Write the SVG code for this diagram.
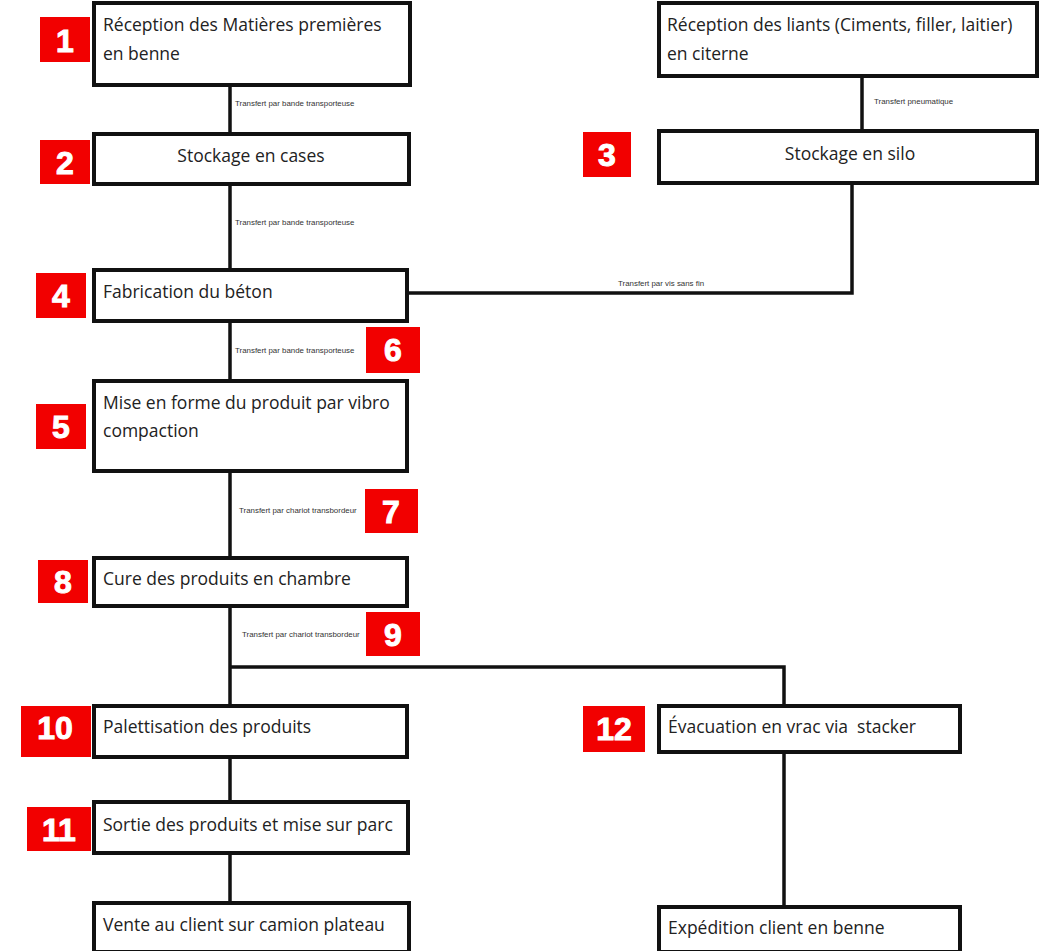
<svg xmlns="http://www.w3.org/2000/svg" width="1050" height="951" viewBox="0 0 1050 951">
<style>
.box{fill:#fff;stroke:#111;stroke-width:4}
.lbl{font-family:"Open Sans",sans-serif;font-size:17.5px;fill:#222;white-space:pre}
.num rect{fill:#f20000}
.num text{font-family:"Liberation Sans",sans-serif;font-weight:bold;font-size:32px;fill:#fff;stroke:#fff;stroke-width:1;text-anchor:middle}
.tr{font-family:"Liberation Sans",sans-serif;font-size:7.9px;fill:#333}
.con{fill:none;stroke:#111;stroke-width:3.5}
</style>
<rect width="1050" height="951" fill="#fff"/>
<g id="connectors">
<path class="con" d="M230 85V134M230 184V270M230 321V381M230 471V558M230 606V706M230 667H784V706M230 757V802M230 853V903M862 76V131M852 183V293H407M784 752V907"/>
<text class="tr" x="235" y="106">Transfert par bande transporteuse</text>
<text class="tr" x="235" y="225">Transfert par bande transporteuse</text>
<text class="tr" x="874" y="104">Transfert pneumatique</text>
<text class="tr" x="618" y="286">Transfert par vis sans fin</text>
<text class="tr" x="235" y="353">Transfert par bande transporteuse</text>
<text class="tr" x="239" y="513">Transfert par chariot transbordeur</text>
<text class="tr" x="242" y="637">Transfert par chariot transbordeur</text>
</g>
<g id="n1"><rect class="box" x="94" y="3" width="316" height="82"/><text class="lbl" x="103" y="31">Réception des Matières premières</text><text class="lbl" x="103" y="60">en benne</text></g>
<g id="b1" class="num"><rect x="40" y="17" width="50" height="45"/><text x="65" y="52">1</text></g>
<g id="n2"><rect class="box" x="94" y="134" width="315" height="50"/><text class="lbl" x="251" y="162" text-anchor="middle">Stockage en cases</text></g>
<g id="b2" class="num"><rect x="40" y="140" width="50" height="44"/><text x="65" y="174">2</text></g>
<g id="nR1"><rect class="box" x="659" y="3" width="378" height="73"/><text class="lbl" x="667" y="31">Réception des liants (Ciments, filler, laitier)</text><text class="lbl" x="667" y="60">en citerne</text></g>
<g id="n3"><rect class="box" x="659" y="131" width="378" height="52"/><text class="lbl" x="850" y="160" text-anchor="middle">Stockage en silo</text></g>
<g id="b3" class="num"><rect x="583" y="132" width="48" height="45"/><text x="607" y="166">3</text></g>
<g id="n4"><rect class="box" x="94" y="270" width="313" height="51"/><text class="lbl" x="103" y="298">Fabrication du béton</text></g>
<g id="b4" class="num"><rect x="36" y="273" width="50" height="45"/><text x="61" y="307">4</text></g>
<g id="b6" class="num"><rect x="366" y="327" width="54" height="46"/><text x="393" y="361">6</text></g>
<g id="n5"><rect class="box" x="94" y="381" width="313" height="90"/><text class="lbl" x="103" y="409">Mise en forme du produit par vibro</text><text class="lbl" x="103" y="437">compaction</text></g>
<g id="b5" class="num"><rect x="36" y="404" width="50" height="45"/><text x="61" y="438">5</text></g>
<g id="b7" class="num"><rect x="365" y="489" width="53" height="44"/><text x="391" y="523">7</text></g>
<g id="n8"><rect class="box" x="94" y="558" width="313" height="48"/><text class="lbl" x="103" y="585">Cure des produits en chambre</text></g>
<g id="b8" class="num"><rect x="38" y="560" width="50" height="43"/><text x="63" y="593">8</text></g>
<g id="b9" class="num"><rect x="366" y="612" width="54" height="44"/><text x="393" y="646">9</text></g>
<g id="n10"><rect class="box" x="94" y="706" width="313" height="51"/><text class="lbl" x="103" y="733">Palettisation des produits</text></g>
<g id="b10" class="num"><rect x="21" y="706" width="70" height="51"/><text x="55" y="739">10</text></g>
<g id="n12"><rect class="box" x="659" y="706" width="301" height="46"/><text class="lbl" x="668" y="733">Évacuation en vrac via  stacker</text></g>
<g id="b12" class="num"><rect x="583" y="706" width="62" height="46"/><text x="614" y="740">12</text></g>
<g id="n11"><rect class="box" x="94" y="802" width="314" height="51"/><text class="lbl" x="103" y="831">Sortie des produits et mise sur parc</text></g>
<g id="b11" class="num"><rect x="27" y="807" width="64" height="44"/><text x="59" y="841">11</text></g>
<g id="n13"><rect class="box" x="94" y="903" width="315" height="49"/><text class="lbl" x="103" y="931">Vente au client sur camion plateau</text></g>
<g id="n14"><rect class="box" x="659" y="907" width="301" height="45"/><text class="lbl" x="668" y="934">Expédition client en benne</text></g>
</svg>
